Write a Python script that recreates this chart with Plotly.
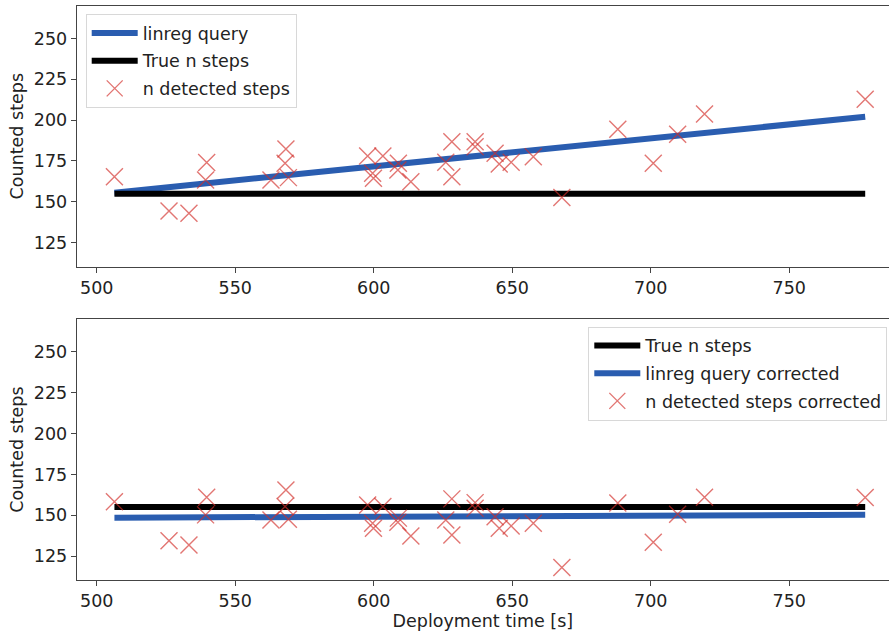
import plotly.graph_objects as go

# ---- data ----
time_s = [506.4, 526.1, 533.3, 539.7, 539.3, 562.9, 568.3, 568.0, 569.2, 597.8,
          599.6, 599.9, 603.3, 608.9, 608.7, 613.4, 626.0, 628.2, 628.2, 636.6,
          636.6, 643.8, 645.3, 649.6, 657.6, 667.9, 688.1, 700.9, 709.7, 719.4, 777.4]
detected = [165.4, 144.4, 143.0, 174.0, 163.4, 163.4, 182.3, 173.6, 164.8, 178.0,
            167.5, 164.4, 178.0, 173.6, 169.5, 162.3, 174.2, 186.8, 165.4, 186.8,
            183.7, 179.7, 173.2, 174.2, 177.6, 152.6, 194.4, 173.6, 191.3, 203.7, 212.7]
detected_corr = [158.3, 134.4, 131.8, 161.0, 150.2, 147.1, 165.5, 155.3, 147.5, 156.3,
                 145.1, 142.0, 155.3, 148.2, 145.7, 137.3, 147.1, 160.0, 137.9, 157.7,
                 154.3, 149.1, 142.0, 143.4, 145.1, 117.9, 157.4, 133.4, 150.6, 161.0, 160.8]
line_x = [506.4, 777.4]
linreg = [155.6, 202.1]
linreg_corr = [148.5, 150.2]
true_steps = [155, 155]

BLUE = "#2a5db0"
RED = "rgba(210,45,40,0.65)"
FONT = "DejaVu Sans"
FS = 17.5
W, H = 889, 635

fig = go.Figure()

# top panel
fig.add_trace(go.Scatter(x=line_x, y=linreg, mode="lines", name="linreg query",
                         line=dict(color=BLUE, width=6), xaxis="x", yaxis="y",
                         legend="legend", legendgroup="a1"))
fig.add_trace(go.Scatter(x=line_x, y=true_steps, mode="lines", name="True n steps",
                         line=dict(color="black", width=6), xaxis="x", yaxis="y",
                         legend="legend", legendgroup="a2"))
fig.add_trace(go.Scatter(x=time_s, y=detected, mode="markers", name="n detected steps",
                         marker=dict(symbol="x-thin", size=17, line=dict(color=RED, width=1.4)),
                         xaxis="x", yaxis="y", legend="legend", legendgroup="a3"))

# bottom panel
fig.add_trace(go.Scatter(x=line_x, y=true_steps, mode="lines", name="True n steps",
                         line=dict(color="black", width=6), xaxis="x2", yaxis="y2",
                         legend="legend2", legendgroup="b1"))
fig.add_trace(go.Scatter(x=line_x, y=linreg_corr, mode="lines", name="linreg query corrected",
                         line=dict(color=BLUE, width=6), xaxis="x2", yaxis="y2",
                         legend="legend2", legendgroup="b2"))
fig.add_trace(go.Scatter(x=time_s, y=detected_corr, mode="markers",
                         name="n detected steps corrected",
                         marker=dict(symbol="x-thin", size=17, line=dict(color=RED, width=1.4)),
                         xaxis="x2", yaxis="y2", legend="legend2", legendgroup="b3"))

xdom = [76.7 / W, 1.0]
xr = [492.78, 785.99]
yr = [110.3, 270.0]
ax_common = dict(showline=True, linecolor="#444", linewidth=1, ticks="outside",
                 ticklen=5, tickcolor="#444", showgrid=False, zeroline=False,
                 tickfont=dict(family=FONT, size=FS, color="#222"), automargin=False)

leg_common = dict(font=dict(family=FONT, size=FS, color="#222"),
                  bgcolor="rgba(255,255,255,0.85)", bordercolor="#d8d8d8", borderwidth=1,
                  xanchor="left", yanchor="top", traceorder="grouped", tracegroupgap=2,
                  itemwidth=46)

fig.update_layout(
    width=W, height=H,
    margin=dict(l=0, r=0, t=0, b=0, autoexpand=False),
    paper_bgcolor="white", plot_bgcolor="white",
    font=dict(family=FONT, size=FS, color="#222"),
    xaxis=dict(domain=xdom, range=xr, anchor="y", mirror=True,
               tickvals=[500, 550, 600, 650, 700, 750], **ax_common),
    yaxis=dict(domain=[1 - 266.7 / H, 1 - 5.7 / H], range=yr, anchor="x",
               tickvals=[125, 150, 175, 200, 225, 250],
               title=dict(text="Counted steps", font=dict(family=FONT, size=FS), standoff=5),
               **ax_common),
    xaxis2=dict(domain=xdom, range=xr, anchor="y2", mirror=True,
                tickvals=[500, 550, 600, 650, 700, 750],
                title=dict(text="Deployment time [s]", font=dict(family=FONT, size=FS), standoff=3),
                **ax_common),
    yaxis2=dict(domain=[1 - 580 / H, 1 - 319.3 / H], range=yr, anchor="x2",
                tickvals=[125, 150, 175, 200, 225, 250],
                title=dict(text="Counted steps", font=dict(family=FONT, size=FS), standoff=5),
                **ax_common),
    legend=dict(x=85.7 / W, y=1 - 14.0 / H, **leg_common),
    legend2=dict(x=588.3 / W, y=1 - 326.5 / H, **leg_common),
    showlegend=True,
)

fig.write_html("out.html")
